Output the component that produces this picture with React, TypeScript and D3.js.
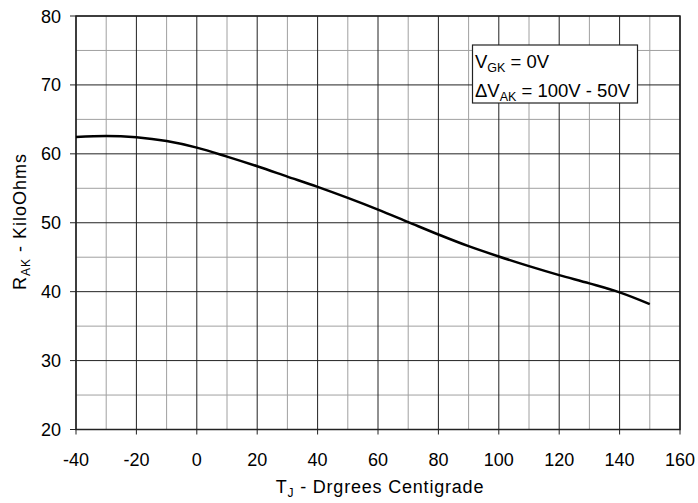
import React from "react";
import * as d3 from "d3";

const temps = [-40, -30, -20, -10, 0, 10, 20, 30, 40, 50, 60, 70, 80, 90, 100, 110, 120, 130, 140, 150];
const rak = [62.45, 62.6, 62.4, 61.85, 60.9, 59.6, 58.2, 56.7, 55.2, 53.6, 51.9, 50.1, 48.3, 46.6, 45.1, 43.7, 42.4, 41.2, 39.9, 38.2];
const xTicks = [-40, -20, 0, 20, 40, 60, 80, 100, 120, 140, 160];
const yTicks = [20, 30, 40, 50, 60, 70, 80];

export default function App() {
  const W = 698, H = 503;
  const left = 76, right = 680, top = 16, bottom = 429.5;
  const x = d3.scaleLinear().domain([-40, 160]).range([left, right]);
  const y = d3.scaleLinear().domain([20, 80]).range([bottom, top]);
  const minorX = d3.range(-30, 160, 20);
  const minorY = d3.range(25, 80, 10);
  const line = d3.line<number>().x((_, i) => x(temps[i])).y((d) => y(d)).curve(d3.curveMonotoneX);
  const font = "Liberation Sans, Arial, sans-serif";
  return (
    <svg width={W} height={H} style={{ position: "absolute", left: 0, top: 0 }} fontFamily={font}>
      <rect width={W} height={H} fill="#fff" />
      {minorX.map((v) => (
        <line key={"mx" + v} x1={x(v)} x2={x(v)} y1={top} y2={bottom} stroke="#a0a0a0" strokeWidth={1} />
      ))}
      {minorY.map((v) => (
        <line key={"my" + v} x1={left} x2={right} y1={y(v)} y2={y(v)} stroke="#a0a0a0" strokeWidth={1} />
      ))}
      {xTicks.map((v) => (
        <line key={"Mx" + v} x1={x(v)} x2={x(v)} y1={top} y2={bottom + 5} stroke="#222" strokeWidth={1} />
      ))}
      {yTicks.map((v) => (
        <line key={"My" + v} x1={left - 6} x2={right} y1={y(v)} y2={y(v)} stroke="#222" strokeWidth={1} />
      ))}
      <rect x={left} y={top} width={right - left} height={bottom - top} fill="none" stroke="#222" strokeWidth={1.5} />
      <path d={line(rak) || ""} fill="none" stroke="#000" strokeWidth={2.5} />
      {xTicks.map((v) => (
        <text key={"tx" + v} x={x(v)} y={466} textAnchor="middle" fontSize={18} fill="#000">{v}</text>
      ))}
      {yTicks.map((v) => (
        <text key={"ty" + v} x={61} y={y(v) + 6.5} textAnchor="end" fontSize={18} fill="#000">{v}</text>
      ))}
      <text x={380} y={493} textAnchor="middle" fontSize={18} letterSpacing={0.8} fill="#000">
        T<tspan fontSize={12} dy={4}>J</tspan><tspan dy={-4}> - Drgrees Centigrade</tspan>
      </text>
      <text transform={`translate(26,221.5) rotate(-90)`} textAnchor="middle" fontSize={18} letterSpacing={1} fill="#000">
        R<tspan fontSize={12} dy={4}>AK</tspan><tspan dy={-4}> - KiloOhms</tspan>
      </text>
      <rect x={472.5} y={45} width={165} height={58} fill="#fff" stroke="#222" strokeWidth={1.2} />
      <text x={475} y={68} fontSize={18.5} fill="#000">
        V<tspan fontSize={12.5} dy={4}>GK</tspan><tspan dy={-4}> = 0V</tspan>
      </text>
      <text x={475} y={96.5} fontSize={18.5} fill="#000">
        ΔV<tspan fontSize={12.5} dy={4}>AK</tspan><tspan dy={-4}> = 100V - 50V</tspan>
      </text>
    </svg>
  );
}
